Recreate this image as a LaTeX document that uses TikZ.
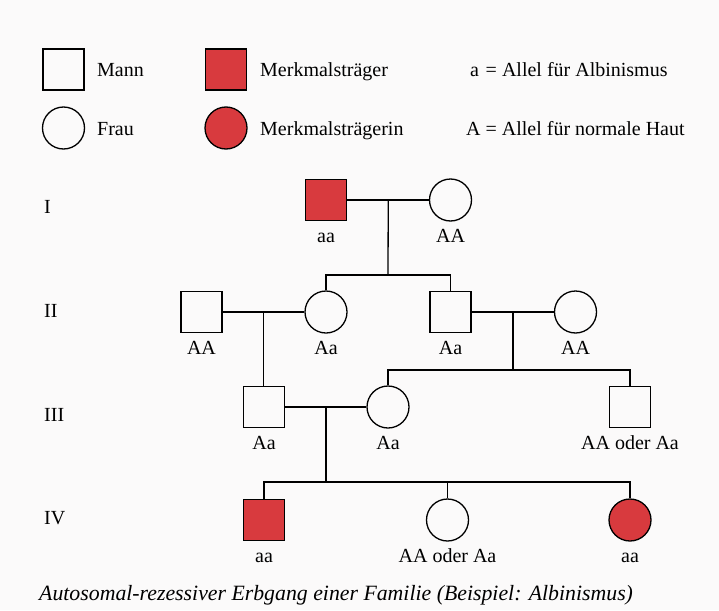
\documentclass[tikz,border=0pt]{standalone}
\usepackage{fontspec}
\setmainfont{Liberation Serif}
\usetikzlibrary{positioning,calc}
\definecolor{merkmalrot}{RGB}{216,58,62}
\definecolor{papier}{RGB}{251,250,250}

\begin{document}
\begin{tikzpicture}[
    x=1pt, y=-1pt,
    font=\fontsize{20}{24}\selectfont,
    mann/.style={
        draw=black,
        line width=1.3pt,
        rectangle,
        minimum size=41pt,
        inner sep=0pt
    },
    frau/.style={
        draw=black,
        line width=1.3pt,
        circle,
        minimum size=42pt,
        inner sep=0pt
    },
    traeger/.style={fill=merkmalrot},
    genotyp/.style={text height=14pt, text depth=4pt, inner sep=1pt},
    legende/.style={anchor=base west, inner sep=0pt},
    linie/.style={line width=1.3pt, draw=black},
    node distance=6pt
]
\fill[papier] (0,0) rectangle (719,610);
% Legende
\node[mann] (lmann) at (63.5,69.5) {};
\node[mann, traeger] (ltraeger) at (226,69.5) {};
\node[frau] (lfrau) at (63.5,128) {};
\node[frau, traeger] (ltraegerin) at (226,128) {};
\node[legende] (tmann) at (97,76) {Mann};
\node[legende] (ttraeger) at (260,76) {Merkmalsträger};
\node[legende] (tallela) at (470,76) {a\,\,= Allel für Albinismus};
\node[legende] (tfrau) at (97,135) {Frau};
\node[legende] (ttraegerin) at (260,135) {Merkmalsträgerin};
\node[legende] (tallelA) at (466,135) {A = Allel für normale Haut};
% Generationen
\node[legende] (gI) at (44,213) {I};
\node[legende] (gII) at (44,317) {II};
\node[legende] (gIII) at (44,421) {III};
\node[legende] (gIV) at (44,524) {IV};
% Personen
\node[mann, traeger] (i1) at (326,200) {};
\node[frau] (i2) at (450.5,200) {};
\node[mann] (ii1) at (201.5,312) {};
\node[frau] (ii2) at (326,312) {};
\node[mann] (ii3) at (450.5,312) {};
\node[frau] (ii4) at (575.5,312) {};
\node[mann] (iii1) at (264,407) {};
\node[frau] (iii2) at (388,407) {};
\node[mann] (iii3) at (630,407) {};
\node[mann, traeger] (iv1) at (264,520) {};
\node[frau] (iv2) at (447.5,520) {};
\node[frau, traeger] (iv3) at (630,520) {};
% Genotypen
\node[genotyp, below=of i1] (ti1) {aa};
\node[genotyp, below=of i2] (ti2) {AA};
\node[genotyp, below=of ii1] (tii1) {AA};
\node[genotyp, below=of ii2] (tii2) {Aa};
\node[genotyp, below=of ii3] (tii3) {Aa};
\node[genotyp, below=of ii4] (tii4) {AA};
\node[genotyp, below=of iii1] (tiii1) {Aa};
\node[genotyp, below=of iii2] (tiii2) {Aa};
\node[genotyp, below=of iii3] (tiii3) {AA oder Aa};
\node[genotyp, below=of iv1] (tiv1) {aa};
\node[genotyp, below=of iv2] (tiv2) {AA oder Aa};
\node[genotyp, below=of iv3] (tiv3) {aa};
% Ehen und Nachkommen
\coordinate (p1) at ($(i1)!.5!(i2)$);
\coordinate (p2) at ($(ii1)!.5!(ii2)$);
\coordinate (p3) at ($(ii3)!.5!(ii4)$);
\coordinate (p4) at ($(iii1)!.5!(iii2)$);
\coordinate (s1) at (388,275);
\coordinate (s3) at (513,370);
\coordinate (s4) at (326,482);
\draw[linie] (i1) -- (i2);
\draw[linie] (ii1) -- (ii2);
\draw[linie] (ii3) -- (ii4);
\draw[linie] (iii1) -- (iii2);
\draw[linie] (p1) -- (s1);
\draw[linie] (ii2) |- (s1) -| (ii3);
\draw[linie] (p2) -- (p2 |- iii1.north);
\draw[linie] (p3) -- (s3);
\draw[linie] (iii2) |- (s3) -| (iii3);
\draw[linie] (p4) -- (s4);
\draw[linie] (iv1) |- (s4) -| (iv3);
\draw[linie] (iv2) -- (iv2 |- s4);
% Bildunterschrift
\node[legende, font=\fontsize{21.8}{26}\selectfont\itshape] (caption) at (39,600) {Autosomal-rezessiver Erbgang einer Familie (Beispiel: Albinismus)};
\end{tikzpicture}
\end{document}
